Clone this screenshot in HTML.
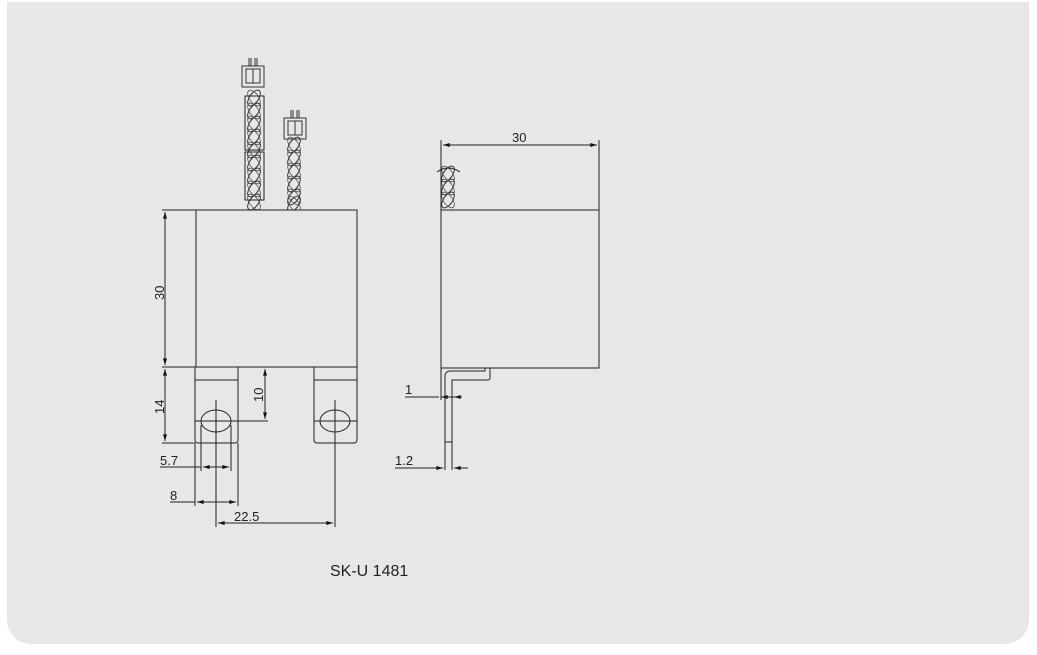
<!DOCTYPE html>
<html><head><meta charset="utf-8"><style>
html,body{margin:0;padding:0;background:#fff;width:1037px;height:655px;overflow:hidden}
.p{position:absolute;left:7px;top:2px;width:1022px;height:642px;background:#e6e7e9;border-radius:0 0 24px 24px}
svg{position:absolute;left:0;top:0}
text{font-family:"Liberation Sans",sans-serif;fill:#222}
</style></head><body>
<div class="p"></div>
<svg width="1037" height="655" viewBox="0 0 1037 655">
<defs>
<marker id="a" viewBox="0 0 10 6" refX="10" refY="3" markerWidth="8" markerHeight="4" orient="auto-start-reverse"><path d="M0,0L10,3L0,6z" fill="#111"/></marker>
<g id="tw"><ellipse cx="0" cy="0" rx="4.5" ry="9" transform="rotate(35)" fill="none" stroke="#333" stroke-width="1"/><ellipse cx="0" cy="0" rx="4.5" ry="9" transform="rotate(-35)" fill="none" stroke="#555" stroke-width="0.8"/></g>
<g id="con"><rect x="0" y="8" width="22" height="21" fill="none" stroke="#333"/><rect x="4" y="11" width="14" height="14" fill="none" stroke="#333"/><path d="M7,8V0M9,8V0M13,8V0M15,8V0M11,11V25" stroke="#333" fill="none"/></g>
</defs>
<g stroke="#222" stroke-width="1" fill="none">
<use href="#con" x="242" y="58"/>
<rect x="245" y="96" width="19" height="54"/><rect x="245" y="152" width="19" height="48"/>
<use href="#con" x="284" y="110"/>
</g>
<g>
<use href="#tw" x="254" y="98"/><use href="#tw" x="254" y="111"/><use href="#tw" x="254" y="124"/><use href="#tw" x="254" y="137"/><use href="#tw" x="254" y="150"/><use href="#tw" x="254" y="163"/><use href="#tw" x="254" y="176"/><use href="#tw" x="254" y="189"/><use href="#tw" x="254" y="202"/>
<use href="#tw" x="294" y="145"/><use href="#tw" x="294" y="158"/><use href="#tw" x="294" y="171"/><use href="#tw" x="294" y="184"/><use href="#tw" x="294" y="197"/><use href="#tw" x="294" y="204"/>
<use href="#tw" x="448" y="174"/><use href="#tw" x="448" y="187"/><use href="#tw" x="448" y="200"/>
</g>
<g stroke="#222" stroke-width="1" fill="none">
<rect x="196" y="210" width="161" height="157" fill="#e6e7e9"/>
<path d="M195,367V440a3,3 0 0 0 3,3H235a3,3 0 0 0 3,-3V367M195,380H238"/>
<path d="M314,367V440a3,3 0 0 0 3,3H354a3,3 0 0 0 3,-3V367M314,380H357"/>
<ellipse cx="216" cy="421" rx="15" ry="11"/><ellipse cx="335" cy="421" rx="15" ry="11"/>
<path d="M216,400V527M335,400V527M195,421H268M314,421H357M238,421H268"/>
<path d="M162,210H196M162,367H196M162,443H195M238,367H268"/>
<path d="M165,212V365" marker-start="url(#a)" marker-end="url(#a)"/>
<path d="M165,369V441" marker-start="url(#a)" marker-end="url(#a)"/>
<path d="M265,369V419" marker-start="url(#a)" marker-end="url(#a)"/>
<path d="M201,425V471M231,425V471M195,443V506M238,443V506"/>
<path d="M160,467H201"/><path d="M203,467H229" marker-start="url(#a)" marker-end="url(#a)"/>
<path d="M170,502H195"/><path d="M197,502H236" marker-start="url(#a)" marker-end="url(#a)"/>
<path d="M218,523H333" marker-start="url(#a)" marker-end="url(#a)"/>
<rect x="441" y="210" width="158" height="158" fill="#e6e7e9"/>
<path d="M441,140V210M599,140V265"/>
<path d="M443,145H597" marker-start="url(#a)" marker-end="url(#a)"/>
<path d="M437,172Q448,164 460,172"/>
<path d="M441,368V400M445,442V470M452,442V470"/>
<path d="M445,442V375a5,5 0 0 1 5,-4H485V368M452,442V380H488a2,2 0 0 0 2,-2V368"/>
<path d="M445,442H452"/>
<path d="M405,397H439"/><path d="M443,397H441" marker-end="url(#a)"/><path d="M462,397H454" marker-end="url(#a)"/><path d="M443,397H462"/>
<path d="M395,468H443" marker-end="url(#a)"/><path d="M468,468H454" marker-end="url(#a)"/>
</g>
<g font-size="13">
<text transform="translate(164,300) rotate(-90)">30</text>
<text transform="translate(164,414) rotate(-90)">14</text>
<text transform="translate(263,402) rotate(-90)">10</text>
<text x="160" y="465">5.7</text>
<text x="170" y="500">8</text>
<text x="234" y="521">22.5</text>
<text x="512" y="142">30</text>
<text x="405" y="394">1</text>
<text x="395" y="465">1.2</text>
</g>
<text x="330" y="576" font-size="16">SK-U 1481</text>
</svg>
</body></html>
